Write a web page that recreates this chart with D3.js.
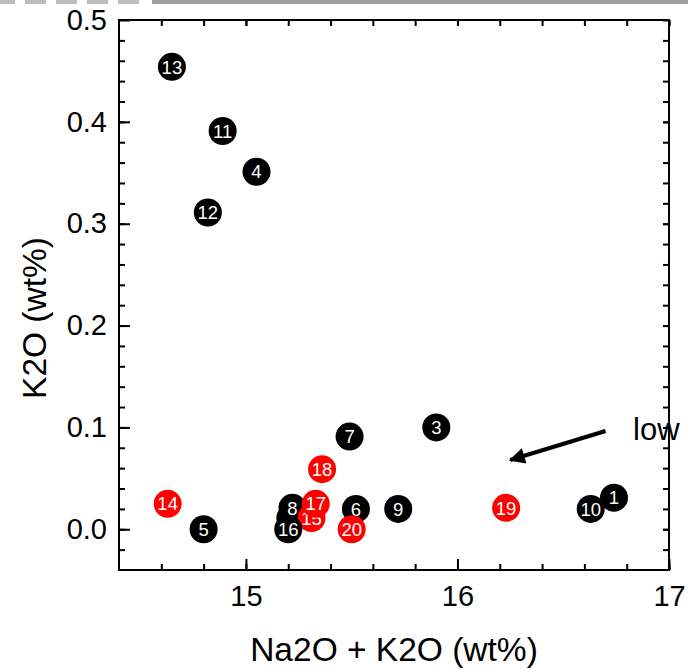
<!DOCTYPE html>
<html>
<head>
<meta charset="utf-8">
<script src="https://cdn.jsdelivr.net/npm/d3@7"></script>
<style>
  body { margin: 0; background: #fff; }
  svg { display: block; font-family: "Liberation Sans", Arial, Helvetica, sans-serif; }
</style>
</head>
<body>
<svg id="canvas"></svg>
<script>
var w = 688
var h = 670

// ########## Data ##########
var sampleIds = [1, 2, 3, 4, 5, 6, 7, 8, 9, 10, 11, 12, 13, 14, 15, 16, 17, 18, 19, 20];
var totalAlkali = [16.74, 15.21, 15.90, 15.05, 14.80, 15.52, 15.49, 15.22, 15.72, 16.63,
                   14.89, 14.82, 14.65, 14.63, 15.31, 15.20, 15.33, 15.36, 16.23, 15.50];
var k2o = [0.031, 0.011, 0.100, 0.351, 0.000, 0.020, 0.091, 0.021, 0.020, 0.020,
           0.391, 0.311, 0.454, 0.025, 0.011, 0.000, 0.025, 0.059, 0.021, 0.000];
var group = ["b", "b", "b", "b", "b", "b", "b", "b", "b", "b",
             "b", "b", "b", "r", "r", "b", "r", "r", "r", "r"];

var xTicks = [15, 16, 17];
var yTicks = [0.0, 0.1, 0.2, 0.3, 0.4, 0.5];
var xMinor = d3.range(14.6, 17.0, 0.2);
var yMinor = d3.range(-0.02, 0.5, 0.02);

var arrowFrom = [16.70, 0.0965];
var arrowTo = [16.25, 0.068];
var noteAt = [16.83, 0.0875];

// ########## SVG ##########
var svg = d3.select("#canvas")
    .attr("width", w)
    .attr("height", h);

// grey strip left over at the top of the picture
svg.append("rect")
    .attr("x", 152).attr("y", 0)
    .attr("width", w - 152).attr("height", 4)
    .attr("fill", "#9d9d9d");
svg.selectAll(".dash")
    .data(d3.range(0, 5)).enter()
    .append("rect")
    .attr("class", "dash")
    .attr("x", function (d) { return d * 31 - 6; })
    .attr("y", 0)
    .attr("width", 21).attr("height", 4)
    .attr("fill", "#bdbdbd");

var pL = 119, pR = 669, pT = 20, pB = 570;

var x = d3.scaleLinear().domain([14.4, 17]).range([pL, pR]);
var y = d3.scaleLinear().domain([-0.04, 0.5]).range([pB, pT]);

// ########## Axes ##########
function styleAxis(g) {
    g.select(".domain").remove();
    g.selectAll("line").attr("stroke", "#000").attr("stroke-width", 2);
    g.selectAll("text")
        .attr("fill", "#000")
        .style("font-size", "29px");
}

svg.append("g")
    .attr("transform", "translate(0," + pB + ")")
    .call(d3.axisBottom(x).tickValues(xMinor).tickSize(-6).tickFormat(""))
    .call(styleAxis);
svg.append("g")
    .attr("transform", "translate(0," + pB + ")")
    .call(d3.axisBottom(x).tickValues(xTicks).tickSize(-11).tickPadding(0).tickFormat(d3.format("d")))
    .call(styleAxis)
    .selectAll("text").attr("y", 36).attr("dy", null);

svg.append("g")
    .attr("transform", "translate(0," + pT + ")")
    .call(d3.axisTop(x).tickValues(xMinor.concat(xTicks)).tickSize(-6).tickFormat(""))
    .call(styleAxis);

svg.append("g")
    .attr("transform", "translate(" + pL + ",0)")
    .call(d3.axisLeft(y).tickValues(yMinor).tickSize(-6).tickFormat(""))
    .call(styleAxis);
svg.append("g")
    .attr("transform", "translate(" + pL + ",0)")
    .call(d3.axisLeft(y).tickValues(yTicks).tickSize(-11).tickPadding(0).tickFormat(d3.format(".1f")))
    .call(styleAxis)
    .selectAll("text").attr("x", -12);

svg.append("g")
    .attr("transform", "translate(" + pR + ",0)")
    .call(d3.axisRight(y).tickValues(yMinor.concat(yTicks)).tickSize(-6).tickFormat(""))
    .call(styleAxis);

svg.append("rect")
    .attr("x", pL).attr("y", pT)
    .attr("width", pR - pL).attr("height", pB - pT)
    .attr("fill", "none")
    .attr("stroke", "#000")
    .attr("stroke-width", 2);

// ########## Titles ##########
svg.append("text")
    .attr("x", (pL + pR) / 2)
    .attr("y", 661)
    .attr("text-anchor", "middle")
    .style("font-size", "33.5px")
    .text("Na2O + K2O (wt%)");

svg.append("text")
    .attr("transform", "translate(46,318) rotate(-90)")
    .attr("text-anchor", "middle")
    .style("font-size", "33.5px")
    .text("K2O (wt%)");

// ########## Points ##########
var pts = sampleIds.map(function (id, i) {
    return { id: id, x: totalAlkali[i], y: k2o[i], g: group[i] };
});

var node = svg.selectAll(".pt")
    .data(pts).enter()
    .append("g")
    .attr("class", "pt")
    .attr("transform", function (d) { return "translate(" + x(d.x) + "," + y(d.y) + ")"; });

node.append("circle")
    .attr("r", 14)
    .attr("fill", function (d) { return d.g === "r" ? "#ff0000" : "#000"; });

node.append("text")
    .attr("text-anchor", "middle")
    .attr("dy", "0.36em")
    .attr("fill", "#fff")
    .style("font-size", "18.5px")
    .text(function (d) { return d.id; });

// ########## Annotation ##########
svg.append("defs").append("marker")
    .attr("id", "head")
    .attr("viewBox", "0 0 10 10")
    .attr("refX", 9).attr("refY", 5)
    .attr("markerWidth", 5).attr("markerHeight", 4)
    .attr("markerUnits", "strokeWidth")
    .attr("orient", "auto")
    .append("path")
    .attr("d", "M0,0L10,5L0,10z")
    .attr("fill", "#000");

svg.append("line")
    .attr("x1", x(arrowFrom[0])).attr("y1", y(arrowFrom[1]))
    .attr("x2", x(arrowTo[0])).attr("y2", y(arrowTo[1]))
    .attr("stroke", "#000")
    .attr("stroke-width", 4)
    .attr("marker-end", "url(#head)");

svg.append("text")
    .attr("x", x(noteAt[0]))
    .attr("y", y(noteAt[1]))
    .style("font-size", "31px")
    .text("low");
</script>
</body>
</html>
